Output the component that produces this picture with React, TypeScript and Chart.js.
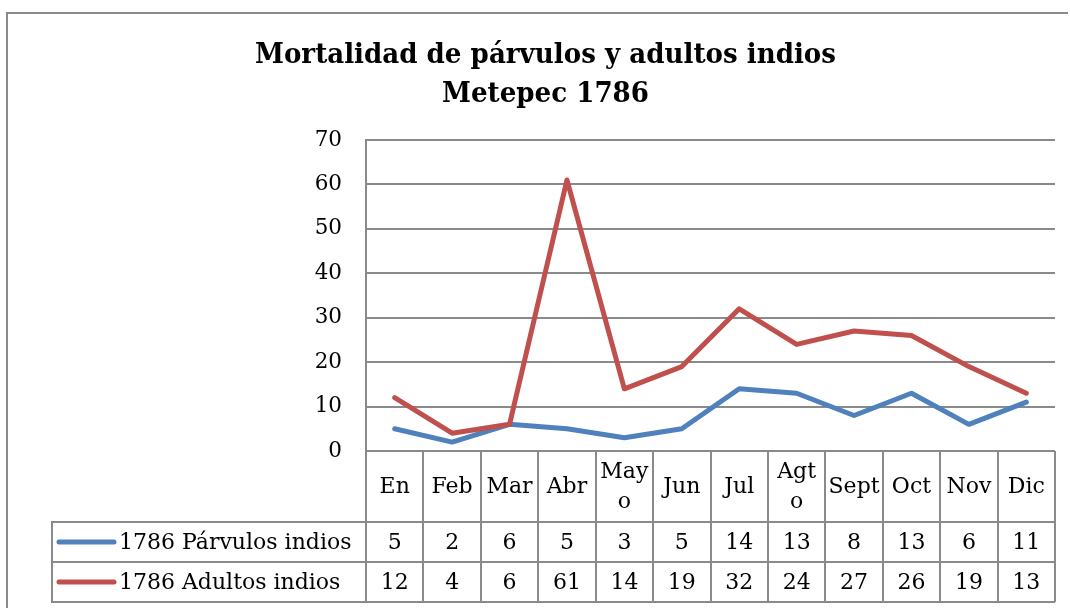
import React, { useEffect, useRef } from 'react';
import { Chart, registerables } from 'chart.js';

Chart.register(...registerables);

// ---- data ----
const titleLines = ['Mortalidad de párvulos y adultos indios', 'Metepec 1786'];
const categories: (string | string[])[] = ['En', 'Feb', 'Mar', 'Abr', ['May', 'o'], 'Jun', 'Jul', ['Agt', 'o'], 'Sept', 'Oct', 'Nov', 'Dic'];
const seriesNames = ['1786 Párvulos indios', '1786 Adultos indios'];
const parvulos = [5, 2, 6, 5, 3, 5, 14, 13, 8, 13, 6, 11];
const adultos = [12, 4, 6, 61, 14, 19, 32, 24, 27, 26, 19, 13];
const seriesColors = ['#4F81BD', '#C0504D'];
const yTicks = [0, 10, 20, 30, 40, 50, 60, 70];

const FONT = '"DejaVu Serif", "Liberation Serif", serif';
const GRID = '#8a8a8a';

const tablePlugin = {
  id: 'excelTable',
  beforeDraw(chart: any) {
    const { ctx } = chart;
    ctx.save();
    ctx.strokeStyle = GRID;
    ctx.lineWidth = 2;
    ctx.beginPath();
    ctx.moveTo(7, chart.height + 5);
    ctx.lineTo(7, 13);
    ctx.lineTo(chart.width - 2, 13);
    ctx.stroke();
    ctx.restore();
  },
  afterDraw(chart: any) {
    const { ctx } = chart;
    const x = chart.scales.x;
    const y = chart.scales.y;
    const n = categories.length;
    const step = x.getPixelForValue(1) - x.getPixelForValue(0);
    const left0 = x.getPixelForValue(0) - step / 2;
    const b = (i: number) => left0 + i * step;
    const top = y.getPixelForValue(0);
    const headerBottom = top + 71;
    const row1Bottom = headerBottom + 40;
    const row2Bottom = row1Bottom + 40;
    const tableLeft = 52;
    const right = b(n);

    ctx.save();
    ctx.strokeStyle = GRID;
    ctx.lineWidth = 2;
    ctx.beginPath();
    [headerBottom, row1Bottom, row2Bottom].forEach((yy) => {
      ctx.moveTo(tableLeft, yy);
      ctx.lineTo(right, yy);
    });
    for (let i = 0; i <= n; i++) {
      const xx = Math.round(b(i));
      ctx.moveTo(xx, top);
      ctx.lineTo(xx, row2Bottom);
    }
    ctx.moveTo(tableLeft, headerBottom - 1);
    ctx.lineTo(tableLeft, row2Bottom + 1);
    ctx.stroke();

    // header labels
    ctx.fillStyle = '#000';
    ctx.font = `22px ${FONT}`;
    ctx.textAlign = 'center';
    ctx.textBaseline = 'middle';
    const hMid = (top + headerBottom) / 2 + 0.5;
    categories.forEach((c, i) => {
      const lines = Array.isArray(c) ? c : [c];
      const lh = 30;
      const cx = (b(i) + b(i + 1)) / 2;
      const maxW = step - 4;
      lines.forEach((t, k) => {
        const w = ctx.measureText(t).width;
        const yy = hMid + (k - (lines.length - 1) / 2) * lh;
        if (w > maxW) {
          ctx.save();
          ctx.translate(cx, yy);
          ctx.scale(maxW / w, 1);
          ctx.fillText(t, 0, 0);
          ctx.restore();
        } else {
          ctx.fillText(t, cx, yy);
        }
      });
    });

    // rows
    const rows = [parvulos, adultos];
    const rowTops = [headerBottom, row1Bottom];
    rows.forEach((vals, r) => {
      const mid = rowTops[r] + 20;
      ctx.textAlign = 'center';
      vals.forEach((v, i) => {
        ctx.fillText(String(v), (b(i) + b(i + 1)) / 2, mid + 1);
      });
      // legend key
      ctx.strokeStyle = seriesColors[r];
      ctx.lineWidth = 5;
      ctx.lineCap = 'round';
      ctx.beginPath();
      ctx.moveTo(tableLeft + 7, mid);
      ctx.lineTo(tableLeft + 62, mid);
      ctx.stroke();
      ctx.textAlign = 'left';
      ctx.fillText(seriesNames[r], tableLeft + 67, mid + 1);
    });

    // title
    ctx.font = `bold 27px ${FONT}`;
    ctx.textAlign = 'center';
    ctx.textBaseline = 'alphabetic';
    const w0 = ctx.measureText(titleLines[0]).width;
    const sx = 581 / w0;
    const cx = 545.5;
    [63, 102].forEach((base, k) => {
      ctx.save();
      ctx.translate(cx, base);
      ctx.scale(sx, 1);
      ctx.fillText(titleLines[k], 0, 0);
      ctx.restore();
    });
    ctx.restore();
  },
};

export default function App() {
  const ref = useRef<HTMLCanvasElement | null>(null);
  useEffect(() => {
    document.body.style.overflow = 'hidden';
    if (!ref.current) return;
    const chart = new Chart(ref.current, {
      type: 'line',
      data: {
        labels: categories as any,
        datasets: [
          {
            label: seriesNames[0],
            data: parvulos,
            borderColor: seriesColors[0],
            backgroundColor: seriesColors[0],
            borderWidth: 5,
            pointRadius: 0,
            tension: 0,
            borderCapStyle: 'round',
            borderJoinStyle: 'round',
            order: 1,
          },
          {
            label: seriesNames[1],
            data: adultos,
            borderColor: seriesColors[1],
            backgroundColor: seriesColors[1],
            borderWidth: 5,
            pointRadius: 0,
            tension: 0,
            borderCapStyle: 'round',
            borderJoinStyle: 'round',
            order: 0,
          },
        ],
      },
      options: {
        animation: false,
        responsive: false,
        devicePixelRatio: 1,
        layout: { padding: { top: 140, bottom: 157, left: 0, right: 15 } },
        plugins: { legend: { display: false }, tooltip: { enabled: false }, title: { display: false } },
        scales: {
          x: { type: 'category', display: false, offset: true },
          y: {
            min: 0,
            max: 70,
            afterBuildTicks: (scale: any) => {
              scale.ticks = yTicks.map((v) => ({ value: v }));
            },
            afterFit: (scale: any) => {
              scale.width = 366;
            },
            grid: { color: GRID, lineWidth: 2, drawTicks: false },
            border: { display: true, color: GRID, width: 2 },
            ticks: { padding: 24, color: '#000', font: { family: FONT, size: 21.5 } },
          },
        },
      },
      plugins: [tablePlugin],
    });
    return () => chart.destroy();
  }, []);
  return (
    <div style={{ position: 'absolute', left: 0, top: 0, width: 1070, height: 608, background: '#fff', overflow: 'hidden' }}>
      <canvas ref={ref} width={1070} height={608} style={{ width: 1070, height: 608, display: 'block' }} />
    </div>
  );
}
